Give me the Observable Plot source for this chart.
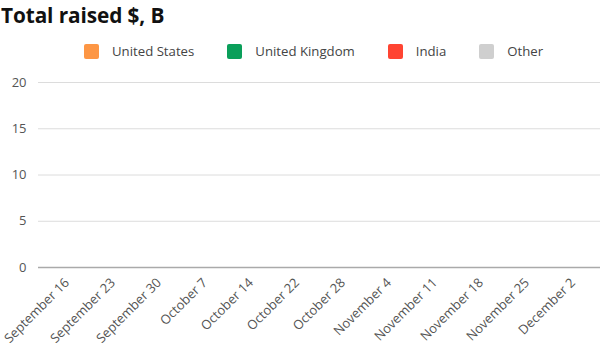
<!DOCTYPE html>
<html>
<head>
<meta charset="utf-8">
<script src="https://cdn.jsdelivr.net/npm/d3@7"></script>
<script src="https://cdn.jsdelivr.net/npm/@observablehq/plot@0.6"></script>
<style>
  html, body { margin: 0; padding: 0; background: #fff; width: 600px; height: 350px; overflow: hidden; font-family: "Open Sans", "Noto Sans", sans-serif; }
  #title { position: absolute; left: 1px; top: 1px; font-size: 20.8px; font-weight: 700; color: #111; letter-spacing: -0.1px; }
  #legend { position: absolute; left: 84px; top: 42px; display: flex; align-items: center; font-size: 13.2px; color: #444; }
  .item { display: flex; align-items: center; margin-right: 33px; }
  .sw { width: 15px; height: 15px; border-radius: 2px; margin-right: 13px; }
  #chart { position: absolute; left: 0; top: 60px; }
</style>
</head>
<body>
<div id="title">Total raised $, B</div>
<div id="legend"></div>
<div id="chart"></div>
<script>
const weeks = ["September 16", "September 23", "September 30", "October 7", "October 14", "October 22", "October 28", "November 4", "November 11", "November 18", "November 25", "December 2"];
const countries = ["United States", "United Kingdom", "India", "Other"];
const colors = ["#fd9644", "#0a9f5a", "#ff4432", "#cfcfcf"];
// No bars are visible in the reference: all values read as zero
const unitedStates  = [0, 0, 0, 0, 0, 0, 0, 0, 0, 0, 0, 0];
const unitedKingdom = [0, 0, 0, 0, 0, 0, 0, 0, 0, 0, 0, 0];
const india         = [0, 0, 0, 0, 0, 0, 0, 0, 0, 0, 0, 0];
const other         = [0, 0, 0, 0, 0, 0, 0, 0, 0, 0, 0, 0];
const yTicks = [0, 5, 10, 15, 20];

const series = [unitedStates, unitedKingdom, india, other];
const data = [];
countries.forEach((c, ci) => weeks.forEach((w, wi) => data.push({week: w, country: c, value: series[ci][wi]})));

const legend = document.getElementById("legend");
countries.forEach((c, i) => {
  const it = document.createElement("div");
  it.className = "item";
  it.innerHTML = `<div class="sw" style="background:${colors[i]}"></div><span>${c}</span>`;
  legend.appendChild(it);
});

const chart = Plot.plot({
  width: 600,
  height: 290,
  marginLeft: 38,
  marginRight: 0,
  marginTop: 22,
  marginBottom: 83,
  style: {fontFamily: "'Open Sans', 'Noto Sans', sans-serif", fontSize: "13px", color: "#555", background: "transparent"},
  x: {domain: weeks, paddingInner: 0.25, paddingOuter: 0.125, label: null, tickSize: 0, tickRotate: -45, tickPadding: 13},
  y: {domain: [0, 20], ticks: yTicks, label: null, tickSize: 0, tickPadding: 12},
  color: {domain: countries, range: colors},
  marks: [
    Plot.ruleY(yTicks.filter(d => d > 0), {stroke: "#dcdcdc", strokeWidth: 1}),
    Plot.barY(data, {x: "week", y: "value", fill: "country"}),
    Plot.ruleY([0], {stroke: "#aaa", strokeWidth: 1.5})
  ]
});
document.getElementById("chart").appendChild(chart);
</script>
</body>
</html>
